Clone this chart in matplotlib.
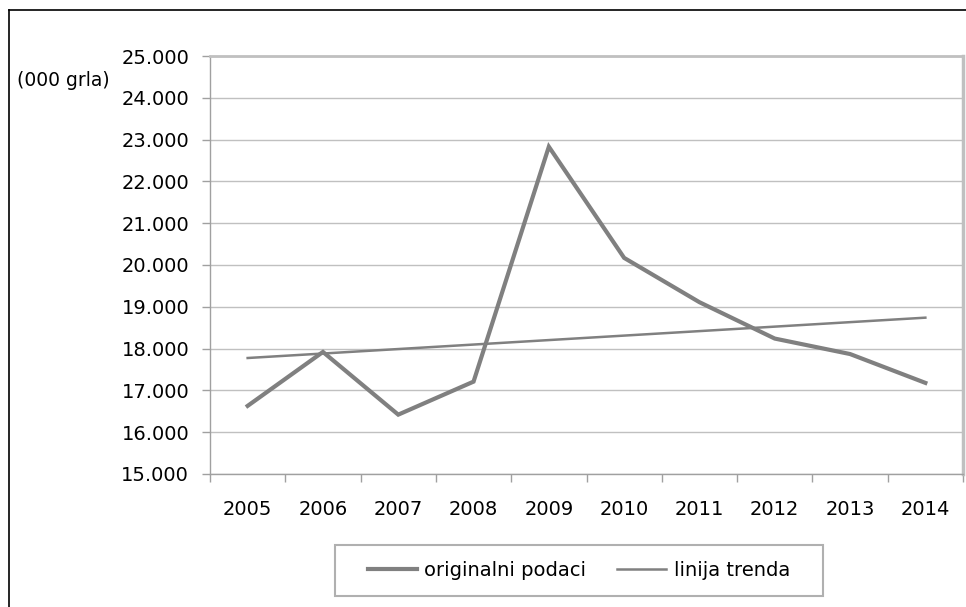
import matplotlib
matplotlib.use("Agg")
import matplotlib.pyplot as plt
from matplotlib.lines import Line2D
from matplotlib.patches import Rectangle
from matplotlib.ticker import FuncFormatter, FixedLocator
import numpy as np

plt.rcParams['font.family'] = ['DejaVu Sans']

years = ['2005', '2006', '2007', '2008', '2009', '2010', '2011', '2012', '2013', '2014']
original = [16630, 17920, 16420, 17210, 22830, 20170, 19110, 18240, 17870, 17180]
trend_ends = [17775, 18740]   # linear trend at first and last year

y_min, y_max, y_step = 15000, 25000, 1000
unit_label = '(000 grla)'
legend_labels = ['originalni podaci', 'linija trenda']

W, H = 966, 607
fig = plt.figure(figsize=(W / 100, H / 100), dpi=100)
fig.patch.set_facecolor('white')

# outer frame (left and top edges)
fig.add_artist(Line2D([8.5 / W, 8.5 / W], [0, 1 - 10 / H], color='black', lw=1.2,
                      transform=fig.transFigure))
fig.add_artist(Line2D([8.5 / W, 1], [1 - 10 / H, 1 - 10 / H], color='black', lw=1.2,
                      transform=fig.transFigure))

left, right, top, bottom = 210, 963, 56, 474
ax = fig.add_axes([left / W, 1 - bottom / H, (right - left) / W, (bottom - top) / H])

x = np.arange(len(years))
line_color = '#808080'
ax.plot(x, original, color=line_color, lw=3.0, solid_joinstyle='miter',
        label=legend_labels[0], zorder=3)
ax.plot([x[0], x[-1]], trend_ends, color=line_color, lw=1.8,
        label=legend_labels[1], zorder=3)

ax.set_xlim(-0.5, len(years) - 0.5)
ax.set_ylim(y_min, y_max)

yt = np.arange(y_min, y_max + 1, y_step)
ax.set_yticks(yt)
ax.yaxis.set_major_formatter(FuncFormatter(lambda v, p: f"{int(v):,}".replace(',', '.')))
ax.grid(axis='y', color='#c0c0c0', lw=1.0, zorder=0)
ax.set_axisbelow(True)

# category labels centered, tick marks at category boundaries
ax.set_xticks(x)
ax.set_xticklabels(years)
ax.xaxis.set_minor_locator(FixedLocator(np.arange(-0.5, len(years), 1.0)))
ax.tick_params(axis='x', which='major', length=0, pad=19, labelsize=14, colors='black')
ax.tick_params(axis='x', which='minor', length=6, width=1, color='#a0a0a0', direction='out')
ax.tick_params(axis='y', which='major', length=6, width=1, color='#a0a0a0',
               pad=9, labelsize=14, labelcolor='black')

for s in ['left', 'bottom']:
    ax.spines[s].set_color('#a0a0a0')
    ax.spines[s].set_linewidth(1.0)
ax.spines['top'].set_color('#c0c0c0')
ax.spines['top'].set_linewidth(2.0)
ax.spines['right'].set_color('#c0c0c0')
ax.spines['right'].set_linewidth(2.5)

fig.text(17 / W, 1 - 80 / H, unit_label, fontsize=13.5, ha='left', va='center')

# legend box and entries
lx0, lx1, ly0, ly1 = 335, 823, 545, 596
fig.add_artist(Rectangle((lx0 / W, 1 - ly1 / H), (lx1 - lx0) / W, (ly1 - ly0) / H,
                         transform=fig.transFigure, facecolor='white',
                         edgecolor='#b0b0b0', lw=1.5))
leg = fig.legend(loc='center', bbox_to_anchor=((lx0 + lx1) / 2 / W, 1 - (ly0 + ly1) / 2 / H),
                 ncol=2, frameon=False, fontsize=14, handlelength=2.5,
                 handletextpad=0.4, columnspacing=1.6, borderpad=0, borderaxespad=0)

fig.savefig('out.png', dpi=100, facecolor='white')
